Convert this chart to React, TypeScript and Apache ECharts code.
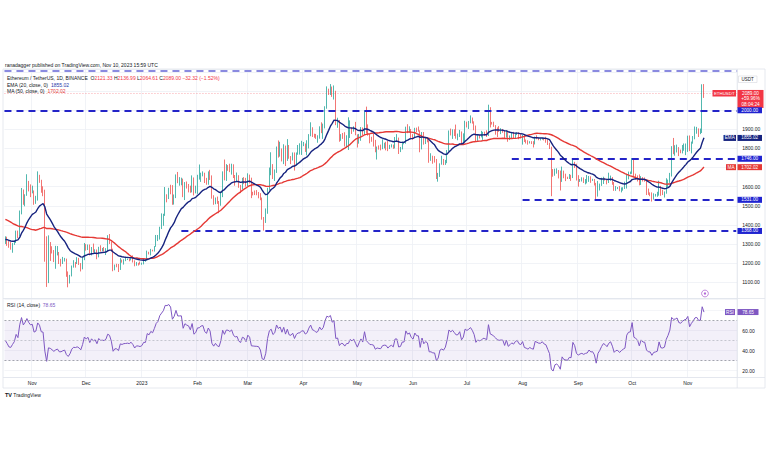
import React, { useEffect, useRef } from "react";
import * as echarts from "echarts";

// ---------------- data ----------------
const firstDate = "2022-10-17"; // first daily candle on the chart
const slotCount = 408; // daily slots incl. the empty right margin

// Daily closes Aug 28 – Oct 16 2022 (off-screen history used by EMA/MA/RSI)
const warmupCloses = [
  1425, 1555, 1524, 1553,
  1586, 1577, 1556, 1577, 1617, 1562, 1630, 1635, 1718, 1782, 1763, 1716, 1572, 1636, 1472, 1434, 1470, 1335, 1376, 1324, 1252, 1327, 1328, 1316, 1294, 1335, 1329, 1337, 1335, 1328,
  1311, 1276, 1323, 1361, 1352, 1351, 1330, 1316, 1322, 1292, 1280, 1295, 1288, 1296, 1274, 1306,
];

// Daily closes Oct 17 2022 – Nov 10 2023
const closes = [
  1331, 1311, 1286, 1282, 1299, 1315, 1363, 1344, 1460, 1566, 1514, 1555, 1619, 1590, 1572,
  1579, 1519, 1531, 1646, 1628, 1571, 1568, 1334, 1100, 1298, 1287, 1256, 1221, 1241, 1253, 1201, 1200, 1212, 1219, 1142, 1108, 1135, 1183, 1203, 1199, 1206, 1194, 1170, 1217, 1296,
  1276, 1294, 1241, 1280, 1259, 1270, 1232, 1282, 1264, 1266, 1263, 1274, 1318, 1310, 1266, 1166, 1186, 1184, 1167, 1217, 1212, 1218, 1219, 1221, 1218, 1226, 1212, 1189, 1200, 1199, 1196,
  1200, 1214, 1214, 1256, 1251, 1269, 1264, 1288, 1321, 1336, 1389, 1418, 1451, 1551, 1550, 1577, 1567, 1513, 1552, 1659, 1627, 1628, 1629, 1555, 1612, 1603, 1598, 1573, 1646, 1566, 1585,
  1641, 1642, 1665, 1670, 1630, 1616, 1673, 1651, 1546, 1515, 1540, 1515, 1506, 1556, 1675, 1637, 1693, 1692, 1681, 1700, 1658, 1641, 1647, 1607, 1595, 1641, 1634, 1605,
  1663, 1647, 1569, 1567, 1565, 1564, 1561, 1533, 1439, 1429, 1468, 1590, 1681, 1704, 1655, 1677, 1792, 1759, 1783, 1734, 1808, 1738, 1815, 1751, 1746, 1776, 1716, 1772, 1793, 1795, 1822,
  1822, 1794, 1809, 1867, 1910, 1872, 1866, 1851, 1861, 1912, 1892, 1919, 2012, 2099, 2093, 2123, 2076, 2102, 1937, 1943, 1848, 1874, 1870, 1840, 1866, 1867, 1907, 1893, 1910, 1870,
  1830, 1870, 1906, 1876, 1992, 1897, 1873, 1849, 1848, 1842, 1795, 1806, 1800, 1798, 1820, 1824, 1822, 1800, 1812, 1817, 1806, 1855, 1855, 1800, 1803, 1830, 1830, 1910, 1890, 1900, 1873,
  1862, 1907, 1891, 1890, 1810, 1880, 1832, 1849, 1839, 1752, 1752, 1741, 1740, 1651, 1666, 1719, 1727, 1716, 1736, 1791, 1890, 1875, 1893, 1876, 1859, 1861, 1888, 1829, 1852, 1934,
  1924, 1937, 1955, 1937, 1910, 1849, 1868, 1862, 1866, 1880, 1878, 1871, 2003, 1938, 1931, 1921, 1908, 1894, 1891, 1893, 1892, 1858, 1891, 1847, 1857, 1868, 1860, 1875, 1881, 1862, 1857,
  1872, 1838, 1834, 1828, 1835, 1829, 1826, 1857, 1853, 1849, 1849, 1854, 1846, 1843, 1826, 1807, 1687, 1660, 1683, 1686, 1668, 1626, 1678, 1652, 1648, 1644, 1656, 1654, 1727, 1706, 1645,
  1628, 1634, 1637, 1629, 1633, 1635, 1647, 1635, 1636, 1617, 1552, 1593, 1607, 1626, 1641, 1635, 1623, 1639, 1646, 1623, 1585, 1593, 1593, 1581, 1588, 1593, 1597, 1653, 1669, 1671,
  1733, 1663, 1656, 1647, 1611, 1646, 1633, 1632, 1580, 1566, 1565, 1539, 1552, 1554, 1557, 1600, 1565, 1563, 1567, 1606, 1629, 1664, 1795, 1785, 1788, 1802, 1780, 1777, 1794, 1810, 1815,
  1847, 1801, 1833, 1857, 1894, 1899, 1886, 1887, 2121.33, 2089,
];

const highs = [
  1340, 1338, 1315, 1310, 1305, 1318, 1370, 1370, 1475, 1593, 1585, 1560, 1665, 1630, 1612,
  1605, 1580, 1552, 1680, 1662, 1636, 1602, 1584, 1340, 1345, 1310, 1288, 1268, 1290, 1289, 1258, 1222, 1232, 1227, 1223, 1156, 1138, 1187, 1215, 1205, 1231, 1227, 1200, 1229, 1305,
  1299, 1297, 1297, 1284, 1302, 1272, 1271, 1285, 1293, 1279, 1284, 1278, 1346, 1352, 1312, 1275, 1192, 1196, 1195, 1226, 1218, 1220, 1229, 1224, 1224, 1229, 1240, 1214, 1205, 1201, 1208,
  1202, 1223, 1219, 1265, 1259, 1274, 1270, 1289, 1347, 1347, 1390, 1460, 1458, 1598, 1560, 1594, 1610, 1608, 1559, 1664, 1677, 1650, 1647, 1642, 1624, 1627, 1614, 1605, 1659, 1648, 1605,
  1662, 1716, 1673, 1680, 1673, 1646, 1680, 1688, 1659, 1555, 1543, 1548, 1525, 1574, 1680, 1742, 1718, 1713, 1720, 1720, 1717, 1661, 1674, 1660, 1609, 1646, 1650, 1646,
  1670, 1663, 1647, 1573, 1580, 1582, 1572, 1566, 1543, 1441, 1486, 1594, 1700, 1780, 1718, 1690, 1810, 1842, 1835, 1800, 1822, 1815, 1849, 1818, 1760, 1779, 1779, 1779, 1818, 1827, 1840,
  1834, 1826, 1843, 1875, 1937, 1911, 1877, 1876, 1869, 1916, 1937, 1930, 2021, 2125, 2113, 2137, 2124, 2130, 2102, 1961, 1949, 1875, 1881, 1885, 1869, 1963, 1947, 1911, 1916, 1939,
  1874, 1876, 1912, 1910, 2000, 2019, 1926, 1875, 1861, 1876, 1845, 1810, 1816, 1820, 1848, 1830, 1835, 1840, 1819, 1822, 1820, 1860, 1875, 1857, 1808, 1836, 1835, 1914, 1927, 1916, 1902,
  1875, 1908, 1909, 1915, 1895, 1886, 1886, 1855, 1855, 1843, 1775, 1762, 1760, 1745, 1672, 1722, 1762, 1745, 1740, 1792, 1894, 1904, 1900, 1900, 1925, 1878, 1897, 1889, 1879, 1945,
  1940, 1944, 1973, 1962, 1942, 1920, 1870, 1870, 1892, 1887, 1888, 1895, 2029, 2016, 1939, 1940, 1922, 1910, 1917, 1906, 1902, 1896, 1895, 1892, 1868, 1883, 1887, 1882, 1885, 1885, 1874,
  1872, 1874, 1847, 1843, 1838, 1838, 1838, 1862, 1869, 1857, 1853, 1855, 1855, 1861, 1848, 1830, 1809, 1692, 1694, 1696, 1687, 1684, 1705, 1684, 1668, 1652, 1666, 1662, 1744, 1730, 1720,
  1660, 1640, 1649, 1648, 1640, 1661, 1656, 1654, 1641, 1640, 1620, 1630, 1616, 1647, 1652, 1646, 1636, 1673, 1658, 1650, 1624, 1603, 1598, 1603, 1596, 1597, 1626, 1667, 1679, 1679,
  1750, 1746, 1668, 1659, 1664, 1655, 1650, 1648, 1632, 1590, 1570, 1570, 1565, 1562, 1573, 1631, 1604, 1584, 1575, 1644, 1637, 1672, 1812, 1855, 1817, 1820, 1807, 1794, 1818, 1826, 1826,
  1867, 1868, 1836, 1865, 1915, 1913, 1905, 1904, 2136, 2136.99,
];

const lows = [
  1300, 1290, 1280, 1270, 1254, 1295, 1305, 1330, 1340, 1455, 1505, 1497, 1552, 1575, 1545,
  1565, 1505, 1510, 1527, 1620, 1568, 1550, 1207, 1075, 1095, 1211, 1250, 1205, 1170, 1240, 1195, 1182, 1195, 1208, 1128, 1073, 1093, 1130, 1176, 1176, 1195, 1190, 1156, 1167, 1215,
  1265, 1268, 1240, 1240, 1255, 1252, 1220, 1230, 1260, 1262, 1260, 1242, 1262, 1300, 1260, 1157, 1162, 1178, 1153, 1164, 1202, 1192, 1210, 1216, 1209, 1214, 1203, 1183, 1186, 1187, 1192,
  1191, 1193, 1207, 1212, 1245, 1240, 1261, 1260, 1285, 1315, 1323, 1378, 1395, 1447, 1518, 1535, 1560, 1505, 1506, 1540, 1618, 1605, 1607, 1545, 1530, 1590, 1570, 1568, 1570, 1554, 1565,
  1562, 1637, 1625, 1654, 1619, 1610, 1610, 1635, 1537, 1505, 1508, 1510, 1461, 1500, 1545, 1633, 1630, 1683, 1676, 1663, 1645, 1605, 1627, 1594, 1566, 1586, 1613, 1600,
  1602, 1617, 1540, 1554, 1556, 1555, 1539, 1529, 1427, 1370, 1410, 1458, 1580, 1660, 1640, 1630, 1672, 1752, 1757, 1732, 1718, 1708, 1735, 1746, 1718, 1737, 1684, 1711, 1767, 1768, 1766,
  1812, 1782, 1764, 1800, 1864, 1860, 1856, 1850, 1830, 1851, 1880, 1850, 1905, 2008, 2080, 2080, 2070, 2056, 1922, 1908, 1835, 1840, 1850, 1810, 1804, 1792, 1855, 1876, 1888, 1869,
  1805, 1825, 1840, 1870, 1874, 1878, 1867, 1827, 1835, 1810, 1780, 1742, 1794, 1790, 1796, 1800, 1790, 1786, 1797, 1805, 1798, 1800, 1840, 1771, 1781, 1795, 1822, 1825, 1880, 1883, 1853,
  1845, 1855, 1885, 1888, 1780, 1795, 1820, 1823, 1832, 1725, 1735, 1720, 1726, 1640, 1626, 1651, 1715, 1713, 1714, 1723, 1785, 1868, 1850, 1865, 1851, 1843, 1860, 1821, 1826, 1837,
  1910, 1902, 1932, 1930, 1895, 1836, 1840, 1852, 1858, 1845, 1866, 1860, 1865, 1910, 1925, 1913, 1872, 1860, 1887, 1875, 1882, 1854, 1857, 1835, 1844, 1850, 1854, 1855, 1870, 1848, 1852,
  1820, 1834, 1826, 1820, 1826, 1823, 1805, 1821, 1848, 1843, 1842, 1846, 1842, 1830, 1818, 1797, 1550, 1652, 1657, 1668, 1643, 1580, 1625, 1644, 1629, 1640, 1640, 1630, 1645, 1698, 1632,
  1600, 1625, 1627, 1619, 1612, 1617, 1625, 1620, 1630, 1606, 1531, 1548, 1580, 1604, 1614, 1632, 1612, 1619, 1630, 1610, 1578, 1578, 1587, 1576, 1570, 1579, 1588, 1590, 1638, 1665,
  1667, 1656, 1637, 1627, 1607, 1609, 1627, 1626, 1556, 1557, 1550, 1522, 1532, 1548, 1547, 1553, 1552, 1556, 1543, 1563, 1596, 1620, 1653, 1770, 1762, 1779, 1760, 1775, 1774, 1788, 1765,
  1782, 1786, 1774, 1825, 1848, 1877, 1860, 1875, 1881, 2064.61,
];

// horizontal support / resistance levels and where they start
const levels = [2000, 1746, 1531, 1368];
const levelStarts = [null, "2023-07-26", "2023-08-01", "2023-01-23"];
const topLevel = 2205;

// values printed in the legends / scale tags
const lastPrice = 2089.0;
const lastEma = 1855.02;
const lastMa = 1702.02;
const lastRsi = 78.65;
const rsiBands = [70, 50, 30];
const hiddenPriceLabels = [2200, 2100, 2000, 1700];
const rsiLabels = [20, 40, 60];

// ---------------- helpers ----------------
const FONT = "'Liberation Sans', Arial, sans-serif";
const UP = "#26a69a";
const DOWN = "#ef5350";
const LEVEL = "#2424c8";
const NAVY = "#16237f";
const MARED = "#e53935";
const PURPLE = "#7e57c2";
const TXT = "#131722";

function buildDates(): string[] {
  const [y, m, d] = firstDate.split("-").map(Number);
  const out: string[] = [];
  for (let i = 0; i < slotCount; i++) {
    out.push(new Date(Date.UTC(y, m - 1, d + i)).toISOString().slice(0, 10));
  }
  return out;
}

function emaOf(src: number[], n: number): number[] {
  const k = 2 / (n + 1);
  const out: number[] = [];
  let prev = 0;
  for (let i = 0; i < src.length; i++) {
    if (i < n - 1) { out.push(NaN); continue; }
    if (i === n - 1) {
      let s = 0;
      for (let j = 0; j < n; j++) s += src[j];
      prev = s / n;
    } else prev = prev + (src[i] - prev) * k;
    out.push(prev);
  }
  return out;
}

function smaOf(src: number[], n: number): number[] {
  return src.map((_, i) => {
    if (i < n - 1) return NaN;
    let s = 0;
    for (let j = i - n + 1; j <= i; j++) s += src[j];
    return s / n;
  });
}

function rsiOf(src: number[], n: number): number[] {
  const out: number[] = [NaN];
  let ag = 0, al = 0;
  for (let i = 1; i < src.length; i++) {
    const ch = src[i] - src[i - 1];
    const g = Math.max(ch, 0), l = Math.max(-ch, 0);
    if (i <= n) {
      ag += g / n; al += l / n;
      out.push(i === n ? 100 - 100 / (1 + ag / (al || 1e-9)) : NaN);
    } else {
      ag = (ag * (n - 1) + g) / n;
      al = (al * (n - 1) + l) / n;
      out.push(100 - 100 / (1 + ag / (al || 1e-9)));
    }
  }
  return out;
}

const monthShort = ["Jan", "Feb", "Mar", "Apr", "May", "Jun", "Jul", "Aug", "Sep", "Oct", "Nov", "Dec"];
const isMonthStart = (_i: number, v: string) => v.slice(8) === "01";
const monthLabel = (v: string) => {
  const m = Number(v.slice(5, 7));
  return m === 1 ? v.slice(0, 4) : monthShort[m - 1];
};

export default function App() {
  const ref = useRef<HTMLDivElement>(null);

  useEffect(() => {
    if (!ref.current) return;
    const chart = echarts.init(ref.current, undefined, { renderer: "svg" });

    const dates = buildDates();
    const all = warmupCloses.concat(closes);
    const w = warmupCloses.length;
    const ema = emaOf(all, 20).slice(w);
    const ma = smaOf(all, 50).slice(w);
    const rsi = rsiOf(all, 14).slice(w);
    const candles = closes.map((c, i) => {
      const o = i === 0 ? warmupCloses[w - 1] : closes[i - 1];
      return [o, c, lows[i], highs[i]];
    });
    const r2 = (v: number) => Math.round(v * 100) / 100;
    const lastDate = dates[dates.length - 1];

    const levelLines: any[] = [
      { yAxis: topLevel, lineStyle: { color: "#8a8ae0", width: 2, type: [7, 5] } },
      { yAxis: lastPrice, lineStyle: { color: "rgba(242,54,69,0.55)", width: 0.8, type: [1, 2] } },
    ];
    levels.forEach((v, i) => {
      const st = { color: LEVEL, width: 2, type: [7, 5] };
      if (levelStarts[i] === null) levelLines.push({ yAxis: v, lineStyle: st });
      else levelLines.push([{ coord: [levelStarts[i], v], lineStyle: st }, { coord: [lastDate, v] }]);
    });

    const axisText = { color: TXT, fontSize: 5, fontFamily: FONT };
    const grid = (top: number, height: number) => ({
      left: 4.46, right: 30.8, top, height, containLabel: false, outerBoundsMode: "none",
    });

    chart.setOption({
      animation: false,
      backgroundColor: "#ffffff",
      grid: [grid(69, 229), grid(299, 78)],
      xAxis: [0, 1].map((gi) => ({
        type: "category",
        gridIndex: gi,
        data: dates,
        boundaryGap: true,
        axisLine: { show: false },
        axisTick: { show: false },
        axisLabel: gi === 1
          ? { show: true, interval: isMonthStart, formatter: monthLabel, margin: 3, ...axisText }
          : { show: false },
        splitLine: { show: true, interval: isMonthStart, lineStyle: { color: "#eef0f5", width: 0.8 } },
      })),
      yAxis: [
        {
          type: "value", gridIndex: 0, position: "right", min: 1017, max: 2216, scale: true,
          splitNumber: 12, minInterval: 100, maxInterval: 100,
          axisLine: { show: false }, axisTick: { show: false },
          axisLabel: {
            margin: 5, ...axisText,
            formatter: (v: number) =>
              Math.abs(v % 100) < 1e-6 && !hiddenPriceLabels.includes(v) ? v.toFixed(2) : "",
          },
          splitLine: { lineStyle: { color: "#eef0f5", width: 0.8 } },
        },
        {
          type: "value", gridIndex: 1, position: "right", min: 13.7, max: 91.7,
          splitNumber: 4, minInterval: 20, maxInterval: 20,
          axisLine: { show: false }, axisTick: { show: false },
          axisLabel: {
            margin: 5, ...axisText,
            formatter: (v: number) => (rsiLabels.includes(v) ? v.toFixed(2) : ""),
          },
          splitLine: { lineStyle: { color: "#f1f2f6", width: 0.8 } },
        },
      ],
      series: [
        {
          type: "candlestick", xAxisIndex: 0, yAxisIndex: 0, data: candles, barWidth: "55%",
          itemStyle: { color: UP, color0: DOWN, borderColor: UP, borderColor0: DOWN, borderWidth: 0.8 },
          markLine: { silent: true, symbol: ["none", "none"], label: { show: false }, data: levelLines, z: 3 },
          z: 2,
        },
        {
          type: "line", xAxisIndex: 0, yAxisIndex: 0, data: ma.map(r2), showSymbol: false,
          lineStyle: { color: MARED, width: 1.4 }, z: 4,
        },
        {
          type: "line", xAxisIndex: 0, yAxisIndex: 0, data: ema.map(r2), showSymbol: false,
          lineStyle: { color: NAVY, width: 1.4 }, z: 5,
        },
        {
          type: "line", xAxisIndex: 1, yAxisIndex: 1, data: rsi.map(r2), showSymbol: false,
          lineStyle: { color: PURPLE, width: 1 },
          markArea: {
            silent: true, itemStyle: { color: "rgba(126,87,194,0.09)" },
            data: [[{ yAxis: rsiBands[2] }, { yAxis: rsiBands[0] }]],
          },
          markLine: {
            silent: true, symbol: ["none", "none"], label: { show: false },
            data: rsiBands.map((v, i) => ({
              yAxis: v,
              lineStyle: { color: i === 1 ? "#b9bbc4" : "#8e919b", width: 0.8, type: [2, 2] },
            })),
          },
        },
      ],
    });

    const yP = (v: number) => chart.convertToPixel({ yAxisIndex: 0 }, v) as number;
    const yR = (v: number) => chart.convertToPixel({ yAxisIndex: 1 }, v) as number;
    const xLast = chart.convertToPixel({ xAxisIndex: 1 }, dates[closes.length - 1]) as number;

    const tag = (x: number, y: number, wd: number, h: number, fill: string, text: string, fs = 4.7) => ({
      type: "group", z: 50,
      children: [
        { type: "rect", z: 50, shape: { x, y: y - h / 2, width: wd, height: h }, style: { fill } },
        {
          type: "text", z: 51, x: x + wd / 2, y,
          style: { text, fill: "#ffffff", fontSize: fs, fontFamily: FONT, align: "center", verticalAlign: "middle" },
        },
      ],
    });
    const txt = (x: number, y: number, text: string, rich?: any, fs = 5) => ({
      type: "text", z: 60, x, y,
      style: { text, rich, fill: TXT, fontSize: fs, fontFamily: FONT, verticalAlign: "middle" },
    });
    const line = (x1: number, y1: number, x2: number, y2: number) => ({
      type: "line", z: 40, shape: { x1, y1, x2, y2 }, style: { stroke: "#e0e3eb", lineWidth: 0.8 },
    });

    const yPrice = yP(lastPrice);
    const priceTextStyle = { fill: "#ffffff", fontSize: 4.7, fontFamily: FONT, align: "center", verticalAlign: "middle" };
    const red = { fill: "#f23645", fontSize: 5, fontFamily: FONT };

    const graphic: any[] = [
      { type: "rect", z: 39, shape: { x: 3, y: 69, width: 762, height: 319 }, style: { fill: "none", stroke: "#e0e3eb", lineWidth: 0.8 } },
      line(737.2, 69, 737.2, 388),
      line(3, 298.5, 765, 298.5),
      line(3, 377.5, 765, 377.5),
      // header + legends
      txt(5, 65, "ranadagger published on TradingView.com, Nov 10, 2023 15:59 UTC"),
      txt(7, 78.3, "Ethereum / TetherUS, 1D, BINANCE  O{r|2121.33} H{r|2136.99} L{r|2064.61} C{r|2089.00} {r|−32.32 (−1.52%)}", { r: red }),
      txt(7, 84.8, "EMA (20, close, 0)  {b|1855.02}", { b: { fill: "#2637a8", fontSize: 5, fontFamily: FONT } }),
      txt(7, 91.3, "MA (50, close, 0)  {r|1702.02}", { r: { fill: MARED, fontSize: 5, fontFamily: FONT } }),
      txt(7, 304.6, "RSI (14, close)  {p|78.65}", { p: { fill: PURPLE, fontSize: 5, fontFamily: FONT } }),
      // TradingView mark
      txt(5, 394.8, "{l|TV} TradingView", { l: { fill: TXT, fontSize: 5.5, fontWeight: "bold", fontFamily: FONT } }, 5),
      // USDT box
      { type: "rect", z: 50, shape: { x: 738.5, y: 76, width: 18.5, height: 6.5 }, style: { fill: "#ffffff", stroke: "#d6d8df", lineWidth: 0.6 } },
      { type: "text", z: 51, x: 747.7, y: 79.3, style: { text: "USDT", fill: TXT, fontSize: 4.5, fontFamily: FONT, align: "center", verticalAlign: "middle" } },
      // symbol / price tag
      tag(712.5, yPrice, 23.5, 6.5, "#f23645", "ETHUSDT", 4.4),
      { type: "rect", z: 50, shape: { x: 737.5, y: yPrice - 3.3, width: 26, height: 18 }, style: { fill: "#f23645" } },
      { type: "text", z: 51, x: 750.5, y: yPrice, style: { text: lastPrice.toFixed(2), ...priceTextStyle } },
      { type: "text", z: 51, x: 750.5, y: yPrice + 5.6, style: { text: "+59.96%", ...priceTextStyle } },
      { type: "text", z: 51, x: 750.5, y: yPrice + 11.2, style: { text: "08:04:24", ...priceTextStyle } },
      // level tags
      ...levels.map((v) => tag(737.5, yP(v), 24.5, 6, "#1f23d0", v.toFixed(2))),
      // indicator tags
      tag(723.5, yP(lastEma), 12.5, 6, NAVY, "EMA"),
      tag(737.5, yP(lastEma), 24.5, 6, NAVY, lastEma.toFixed(2)),
      tag(726, yP(lastMa), 10, 6, MARED, "MA"),
      tag(737.5, yP(lastMa), 24.5, 6, MARED, lastMa.toFixed(2)),
      tag(725, yR(lastRsi), 10, 6, PURPLE, "RSI"),
      tag(737.5, yR(lastRsi), 21, 6, PURPLE, lastRsi.toFixed(2)),
      // alert marker
      { type: "circle", z: 55, shape: { cx: xLast + 1, cy: 293.5, r: 3.4 }, style: { fill: "#ffffff", stroke: "#b36ad6", lineWidth: 0.8 } },
      { type: "circle", z: 56, shape: { cx: xLast + 1, cy: 293.5, r: 1.2 }, style: { fill: "#b36ad6" } },
    ];
    chart.setOption({ graphic });

    return () => chart.dispose();
  }, []);

  return (
    <div
      ref={ref}
      style={{ position: "absolute", left: 0, top: 0, width: 768, height: 463, background: "#ffffff" }}
    />
  );
}
